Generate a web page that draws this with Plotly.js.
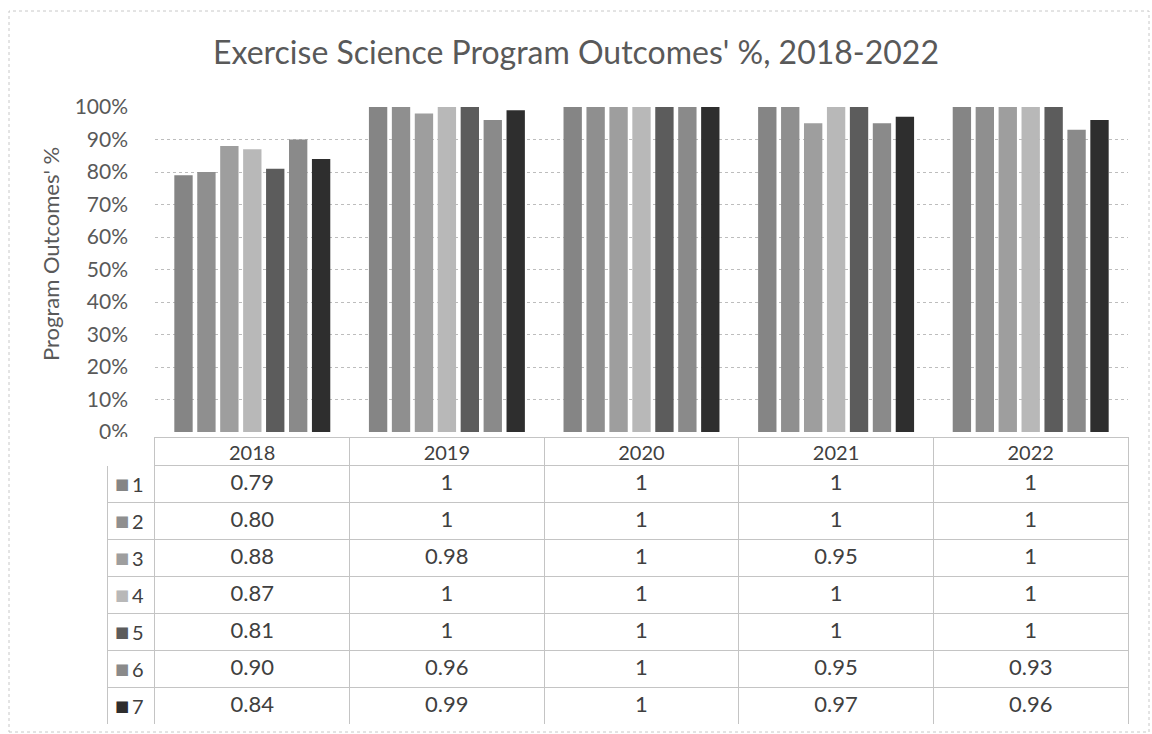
<!DOCTYPE html>
<html>
<head>
<meta charset="utf-8">
<script src="https://cdn.plot.ly/plotly-3.0.1.min.js"></script>
<style>html,body{margin:0;padding:0;background:#fff;}#chart{width:1152px;height:734px;}</style>
</head>
<body>
<div id="chart"></div>
<script>
const years = ['2018', '2019', '2020', '2021', '2022'];
const outcomeNames = ['1', '2', '3', '4', '5', '6', '7'];
const outcome1 = [0.79, 1, 1, 1, 1];
const outcome2 = [0.80, 1, 1, 1, 1];
const outcome3 = [0.88, 0.98, 1, 0.95, 1];
const outcome4 = [0.87, 1, 1, 1, 1];
const outcome5 = [0.81, 1, 1, 1, 1];
const outcome6 = [0.90, 0.96, 1, 0.95, 0.93];
const outcome7 = [0.84, 0.99, 1, 0.97, 0.96];

const series = [outcome1, outcome2, outcome3, outcome4, outcome5, outcome6, outcome7];
const colors = ['#858585', '#8f8f8f', '#9e9e9e', '#b8b8b8', '#5c5c5c', '#8a8a8a', '#2e2e2e'];
const font = 'Lato, "Open Sans", sans-serif';

// layout geometry (pixels)
const W = 1152, H = 734;
const M = {l: 107, r: 24, t: 60, b: 8};
const paperW = W - M.l - M.r, paperH = H - M.t - M.b;
const px2x = p => (p - M.l) / paperW;
const px2y = p => (H - M.b - p) / paperH;
const headerH = 28, rowH = 37, tableTop = 437;

const traces = series.map((vals, i) => ({
  type: 'bar',
  name: outcomeNames[i],
  x: years,
  y: vals,
  marker: {color: colors[i], line: {width: 0}},
  xaxis: 'x', yaxis: 'y',
  hoverinfo: 'x+y+name'
}));

function fmt(v) { return v === 1 ? '1' : v.toFixed(2); }
const labelCol = outcomeNames.map(() => '');
const tableCols = [labelCol].concat(years.map((y, j) => series.map(s => fmt(s[j]))));

traces.push({
  type: 'table',
  domain: {x: [0, 1], y: [px2y(tableTop + headerH + rowH * 7), px2y(tableTop)]},
  columnwidth: [48, 195, 195, 195, 195, 195],
  header: {
    values: [''].concat(years),
    align: 'center',
    height: headerH,
    fill: {color: 'white'},
    line: {color: ['white', '#c4c4c4', '#c4c4c4', '#c4c4c4', '#c4c4c4', '#c4c4c4'], width: 1},
    font: {family: font, size: 20, color: '#404040'}
  },
  cells: {
    values: tableCols,
    align: 'center',
    height: rowH,
    fill: {color: 'white'},
    line: {color: '#c4c4c4', width: 1},
    font: {family: font, size: 22, color: '#404040'}
  }
});

const annotations = [];
outcomeNames.forEach((n, i) => {
  const yc = px2y(tableTop + headerH + rowH * i + rowH / 2);
  annotations.push({
    xref: 'paper', yref: 'paper', x: px2x(122), y: yc, xanchor: 'center', yanchor: 'middle',
    text: '■', showarrow: false, font: {family: 'DejaVu Sans', size: 15, color: colors[i]}
  });
  annotations.push({
    xref: 'paper', yref: 'paper', x: px2x(130), y: yc, xanchor: 'left', yanchor: 'middle',
    text: n, showarrow: false, font: {family: font, size: 20, color: '#404040'}
  });
});
annotations.push({
  xref: 'paper', yref: 'paper', x: px2x(50), y: px2y(254), xanchor: 'center', yanchor: 'middle',
  text: "Program Outcomes' %", textangle: -90, showarrow: false,
  font: {family: font, size: 22, color: '#595959'}
});

const layout = {
  width: W, height: H,
  margin: M,
  paper_bgcolor: 'white', plot_bgcolor: 'white',
  showlegend: false,
  barmode: 'group',
  bargap: 0.175,
  bargroupgap: 0.2,
  title: {
    text: "Exercise Science Program Outcomes' %, 2018-2022",
    x: 0.5, xref: 'container', xanchor: 'center', y: 1 - 53 / H, yref: 'container', yanchor: 'middle',
    font: {family: font, size: 32, color: '#595959'}
  },
  xaxis: {
    domain: [px2x(155), 1],
    showticklabels: false, showgrid: false, zeroline: false,
    showline: false, ticks: '', fixedrange: true
  },
  yaxis: {
    domain: [px2y(432), px2y(107)],
    range: [0, 1], dtick: 0.1, tickformat: '.0%',
    showgrid: true, gridcolor: '#bdbdbd', griddash: 'dot', gridwidth: 1,
    zeroline: false, showline: false, ticks: '',
    ticklabelstandoff: 26,
    tickfont: {family: font, size: 21, color: '#595959'}
  },
  annotations: annotations,
  shapes: [{
    type: 'rect', xref: 'paper', yref: 'paper',
    x0: px2x(9), x1: px2x(1149), y0: px2y(732), y1: px2y(11),
    line: {color: '#c8c8c8', width: 1, dash: 'dot'}
  }],
  font: {family: font}
};

Plotly.newPlot('chart', traces, layout, {displayModeBar: false, staticPlot: true});
</script>
</body>
</html>
